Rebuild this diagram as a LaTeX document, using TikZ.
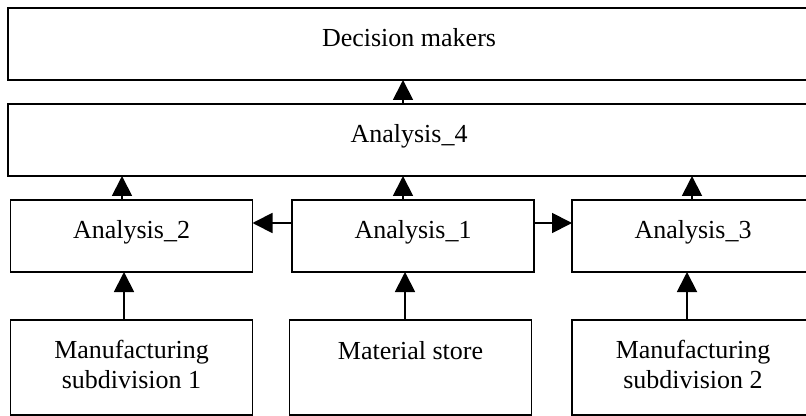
\documentclass[tikz,border=0pt]{standalone}
\usepackage{fontspec}
\setmainfont{Liberation Serif}
\usetikzlibrary{arrows.meta}
\begin{document}
\begin{tikzpicture}[x=0.5pt,y=-0.5pt,
  box/.style={draw, line width=0.9pt, rectangle, inner sep=0pt, outer sep=0pt,
    font=\fontsize{13}{15}\selectfont, text height=9pt, text depth=6pt,
    minimum height=36pt, minimum width=121pt},
  lowbox/.style={box, align=center, text depth=17.5pt, minimum height=47.5pt},
  twolinebox/.style={lowbox, text height=24pt, text depth=3.5pt},
  arr/.style={-{Triangle[length=10pt,width=10pt]}, line width=0.9pt}]
\useasboundingbox (0,0) rectangle (806,416);
\clip (0,0) rectangle (806,416);
\node[box, minimum width=401pt] (dm) at (409,44){Decision makers};
\node[box, minimum width=401pt] (an4) at (409,140){Analysis\_4};
\node[box] (an2) at (131.5,236){Analysis\_2};
\node[box] (an1) at (413,236){Analysis\_1};
\node[box] (an3) at (693,236){Analysis\_3};
\node[twolinebox] (ms1) at (131.5,367.5){Manufacturing\\subdivision 1};
\node[lowbox] (mst) at (410.5,367.5){Material store};
\node[twolinebox] (ms2) at (693,367.5){Manufacturing\\subdivision 2};
\draw[arr] ([xshift=-3pt]an4.north) -- ([xshift=-3pt]an4.north |- dm.south);
\draw[arr] ([xshift=-4.75pt]an2.north) -- ([xshift=-4.75pt]an2.north |- an4.south);
\draw[arr] ([xshift=-5pt]an1.north) -- ([xshift=-5pt]an1.north |- an4.south);
\draw[arr] ([xshift=-0.5pt]an3.north) -- ([xshift=-0.5pt]an3.north |- an4.south);
\draw[arr] ([yshift=6.5pt]an1.west) -- ([yshift=6.5pt]an1.west -| an2.east);
\draw[arr] ([yshift=6.5pt]an1.east) -- ([yshift=6.5pt]an1.east -| an3.west);
\draw[arr] ([xshift=-3.75pt]ms1.north) -- ([xshift=-3.75pt]ms1.north |- an2.south);
\draw[arr] ([xshift=-2.75pt]mst.north) -- ([xshift=-2.75pt]mst.north |- an1.south);
\draw[arr] ([xshift=-3pt]ms2.north) -- ([xshift=-3pt]ms2.north |- an3.south);
\end{tikzpicture}
\end{document}
